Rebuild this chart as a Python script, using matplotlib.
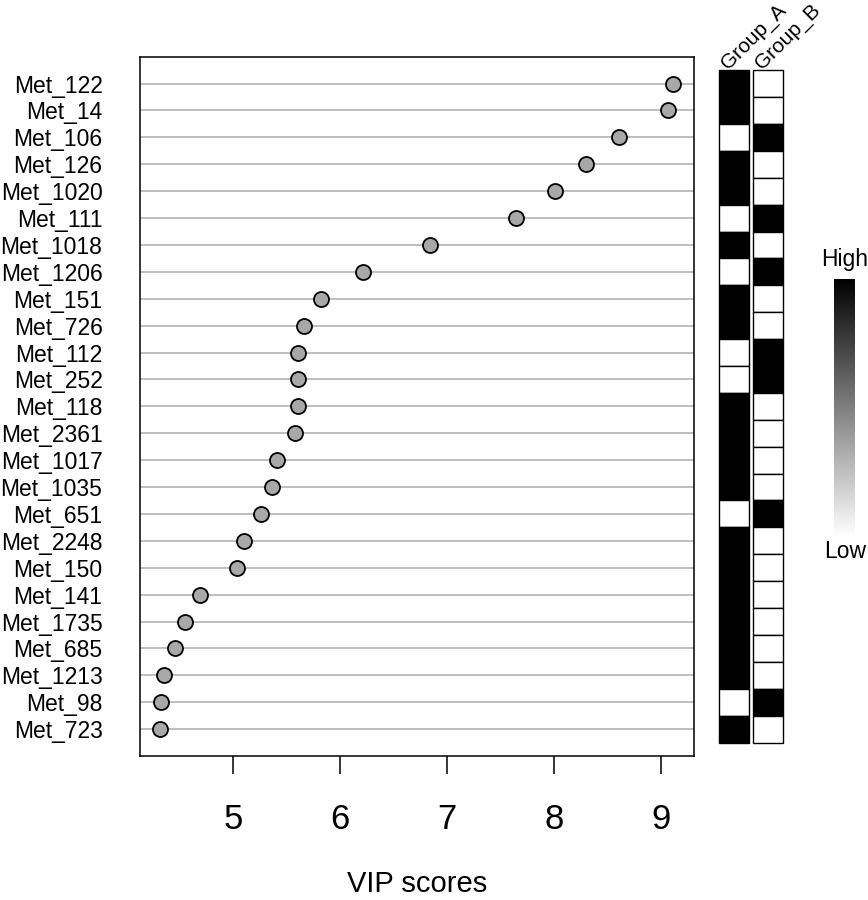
import numpy as np
import matplotlib
matplotlib.use("Agg")
import matplotlib.pyplot as plt
from matplotlib.patches import Rectangle
from matplotlib.cm import ScalarMappable
from matplotlib.colors import Normalize

plt.rcParams['font.family'] = ['Liberation Sans', 'DejaVu Sans']

# metabolites, top to bottom
metabolites = ["Met_122", "Met_14", "Met_106", "Met_126", "Met_1020", "Met_111",
               "Met_1018", "Met_1206", "Met_151", "Met_726", "Met_112", "Met_252",
               "Met_118", "Met_2361", "Met_1017", "Met_1035", "Met_651", "Met_2248",
               "Met_150", "Met_141", "Met_1735", "Met_685", "Met_1213", "Met_98",
               "Met_723"]
vip = [9.115, 9.063, 8.607, 8.298, 8.010, 7.641, 6.838, 6.213, 5.820, 5.667,
       5.608, 5.608, 5.605, 5.580, 5.410, 5.365, 5.260, 5.100, 5.040, 4.690,
       4.555, 4.460, 4.350, 4.330, 4.320]
# relative level per group (1 = high, 0 = low)
group_names = ["Group_A", "Group_B"]
group_a = [1, 1, 0, 1, 1, 0, 1, 0, 1, 1, 0, 0, 1, 1, 1, 1, 0, 1, 1, 1, 1, 1, 1, 0, 1]
group_b = [0, 0, 1, 0, 0, 1, 0, 1, 0, 0, 1, 1, 0, 0, 0, 0, 1, 0, 0, 0, 0, 0, 0, 1, 0]
x_ticks = [5, 6, 7, 8, 9]

W, H = 868, 900
fs = 16.5
fig = plt.figure(figsize=(W / 100, H / 100), dpi=100)

n = len(metabolites)
ypos = np.arange(n, 0, -1)

# dot chart
ax = fig.add_axes([140 / W, 1 - 756 / H, 554 / W, 699.3 / H])
for y in ypos:
    ax.axhline(y, color='#bebebe', lw=1.4, zorder=1)
ax.plot(vip, ypos, 'o', ms=10.8, mfc='#a8a8a8', mec='black', mew=1.3,
        ls='none', zorder=3)
ax.set_xlim(4.13, 9.31)
ax.set_ylim(0, n + 1)
ax.set_yticks(ypos)
ax.set_yticklabels(metabolites, fontsize=fs)
ax.tick_params(axis='y', length=0, pad=27)
ax.set_xticks(x_ticks)
ax.set_xticklabels([str(t) for t in x_ticks], fontsize=25)
ax.tick_params(axis='x', length=13, width=1.1, pad=21, direction='out')
for s in ax.spines.values():
    s.set_linewidth(1.1)
fig.text(417 / W, 1 - 892 / H, "VIP scores", ha='center', va='baseline',
         fontsize=21)

# group heatmap
hx = fig.add_axes([718 / W, 1 - 756 / H, 66 / W, 699.3 / H])
hx.set_xlim(-0.045, 2.175)
hx.set_ylim(0, n + 1)
hx.axis('off')
col_x = [0, 1.13]
for cx, vals in zip(col_x, [group_a, group_b]):
    for y, v in zip(ypos, vals):
        hx.add_patch(Rectangle((cx, y - 0.5), 1, 1,
                               facecolor='black' if v else 'white',
                               edgecolor='black', lw=1.0, clip_on=False))
for cx, name in zip(col_x, group_names):
    hx.text(cx + 0.4, n + 0.4, name, rotation=45, rotation_mode='anchor',
            ha='left', va='bottom', fontsize=15, clip_on=False)

# colour key
cax = fig.add_axes([834 / W, 1 - 537 / H, 21 / W, 258 / H])
cb = fig.colorbar(ScalarMappable(norm=Normalize(0, 1), cmap='gray_r'), cax=cax)
cb.outline.set_visible(False)
cb.set_ticks([])
fig.text(844.5 / W, 1 - 266 / H, "High", ha='center', va='baseline', fontsize=fs)
fig.text(845 / W, 1 - 558 / H, "Low", ha='center', va='baseline', fontsize=fs)

fig.savefig("out.png", dpi=100)
